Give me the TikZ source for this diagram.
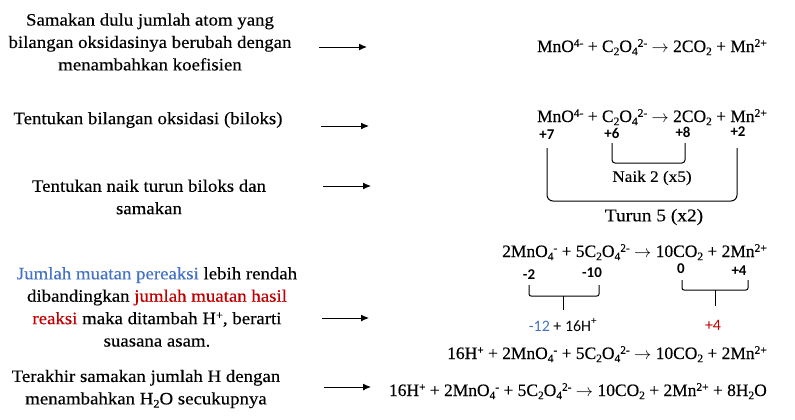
\documentclass[tikz,border=0pt]{standalone}
\usepackage{fontspec}
\setmainfont{Liberation Serif}[FakeStretch=1.08,FakeBold=0.3]
\newfontfamily\eqfont{Liberation Serif}[FakeStretch=1.0,FakeBold=0.3]
\newfontfamily\calibri{Carlito}
\usetikzlibrary{arrows.meta}
\definecolor{myblue}{HTML}{4472C4}
\definecolor{myred}{HTML}{C00000}
\newcommand\chsub[1]{\raisebox{-0.18em}{\fontsize{11.5}{11.5}\selectfont #1}}
\newcommand\chsup[1]{\raisebox{0.3em}{\fontsize{11.5}{11.5}\selectfont #1}}
\begin{document}
\begin{tikzpicture}[x=1bp,y=-1bp,
  txt/.style={align=center,font=\fontsize{17.5}{22.5}\selectfont,inner sep=0pt},
  eq/.style={anchor=base east,font=\eqfont\fontsize{17.5}{22.5}\selectfont,inner sep=0pt},
  num/.style={font=\calibri\bfseries\fontsize{15}{17}\selectfont,inner sep=0pt},
  lbl/.style={font=\calibri\fontsize{16}{18}\selectfont,inner sep=0pt},
  arr/.style={-{Latex[length=8bp,width=7bp]},line width=1bp},
  brk/.style={line width=1bp}]
\useasboundingbox (0,0) rectangle (795,419);
% left texts
\node[txt] (t1) at (150,42) {Samakan dulu jumlah atom yang\\bilangan oksidasinya berubah dengan\\menambahkan koefisien};
\node[txt] (t2) at (148,120) {Tentukan bilangan oksidasi (biloks)};
\node[txt] (t3) at (149,197) {Tentukan naik turun biloks dan\\samakan};
\node[txt] (t4) at (157,307) {\textcolor{myblue}{Jumlah muatan pereaksi} lebih rendah\\dibandingkan \textcolor{myred}{jumlah muatan hasil}\\\textcolor{myred}{reaksi} maka ditambah H\chsup{+}, berarti\\suasana asam.};
\node[txt] (t5) at (146,389) {Terakhir samakan jumlah H dengan\\menambahkan H\chsub{2}O secukupnya};
% arrows
\coordinate (a1s) at (319,47); \coordinate (a1e) at (367,47);
\coordinate (a2s) at (321,126); \coordinate (a2e) at (369,126);
\coordinate (a3s) at (323,186); \coordinate (a3e) at (371,186);
\coordinate (a4s) at (322,318); \coordinate (a4e) at (369,318);
\coordinate (a5s) at (324,387); \coordinate (a5e) at (371,387);
\draw[arr] (a1s) -- (a1e);
\draw[arr] (a2s) -- (a2e);
\draw[arr] (a3s) -- (a3e);
\draw[arr] (a4s) -- (a4e);
\draw[arr] (a5s) -- (a5e);
% equations
\node[eq] (e1) at (767,52) {MnO\chsup{4-} + C\chsub{2}O\chsub{4}\chsup{2-} $\rightarrow$ 2CO\chsub{2} + Mn\chsup{2+}};
\node[eq] (e2) at (767,122) {MnO\chsup{4-} + C\chsub{2}O\chsub{4}\chsup{2-} $\rightarrow$ 2CO\chsub{2} + Mn\chsup{2+}};
\node[num] (n7) at (547,135) {+7};
\node[num] (n6) at (612,133) {+6};
\node[num] (n8) at (683,132) {+8};
\node[num] (n2) at (738,132) {+2};
\draw[brk,rounded corners=3bp] (612,143) -- (612,163) -- (685,163) -- (685,143);
\draw[brk,rounded corners=6bp] (547,148) -- (547,201) -- (737,201) -- (737,148);
\node[txt,font=\fontsize{16}{19}\selectfont] (naik) at (652,178) {Naik 2 (x5)};
\node[txt,font=\fontsize{18}{21}\selectfont] (turun) at (654,217) {Turun 5 (x2)};
\node[eq] (e3) at (767,257) {2MnO\chsub{4}\chsup{-} + 5C\chsub{2}O\chsub{4}\chsup{2-} $\rightarrow$ 10CO\chsub{2} + 2Mn\chsup{2+}};
\node[num] (m2) at (529,275) {-2};
\node[num] (m10) at (592,273) {-10};
\node[num] (z0) at (681,269) {0};
\node[num] (p4) at (739,271) {+4};
\draw[brk,rounded corners=2bp] (529,285) -- (529,296) -- (599,296) -- (599,285);
\draw[brk] (563,296) -- (563,310);
\draw[brk,rounded corners=2bp] (682,280) -- (682,290) -- (748,290) -- (748,280);
\draw[brk] (715,290) -- (715,306);
\node[lbl] (l12) at (563,325) {\textcolor{myblue}{-12} + 16H\textsuperscript{+}};
\node[lbl,text=myred] (l4) at (713,325) {+4};
\node[eq] (e4) at (767,359) {16H\chsup{+} + 2MnO\chsub{4}\chsup{-} + 5C\chsub{2}O\chsub{4}\chsup{2-} $\rightarrow$ 10CO\chsub{2} + 2Mn\chsup{2+}};
\node[eq] (e5) at (767,396) {16H\chsup{+} + 2MnO\chsub{4}\chsup{-} + 5C\chsub{2}O\chsub{4}\chsup{2-} $\rightarrow$ 10CO\chsub{2} + 2Mn\chsup{2+} + 8H\chsub{2}O};
\end{tikzpicture}
\end{document}
